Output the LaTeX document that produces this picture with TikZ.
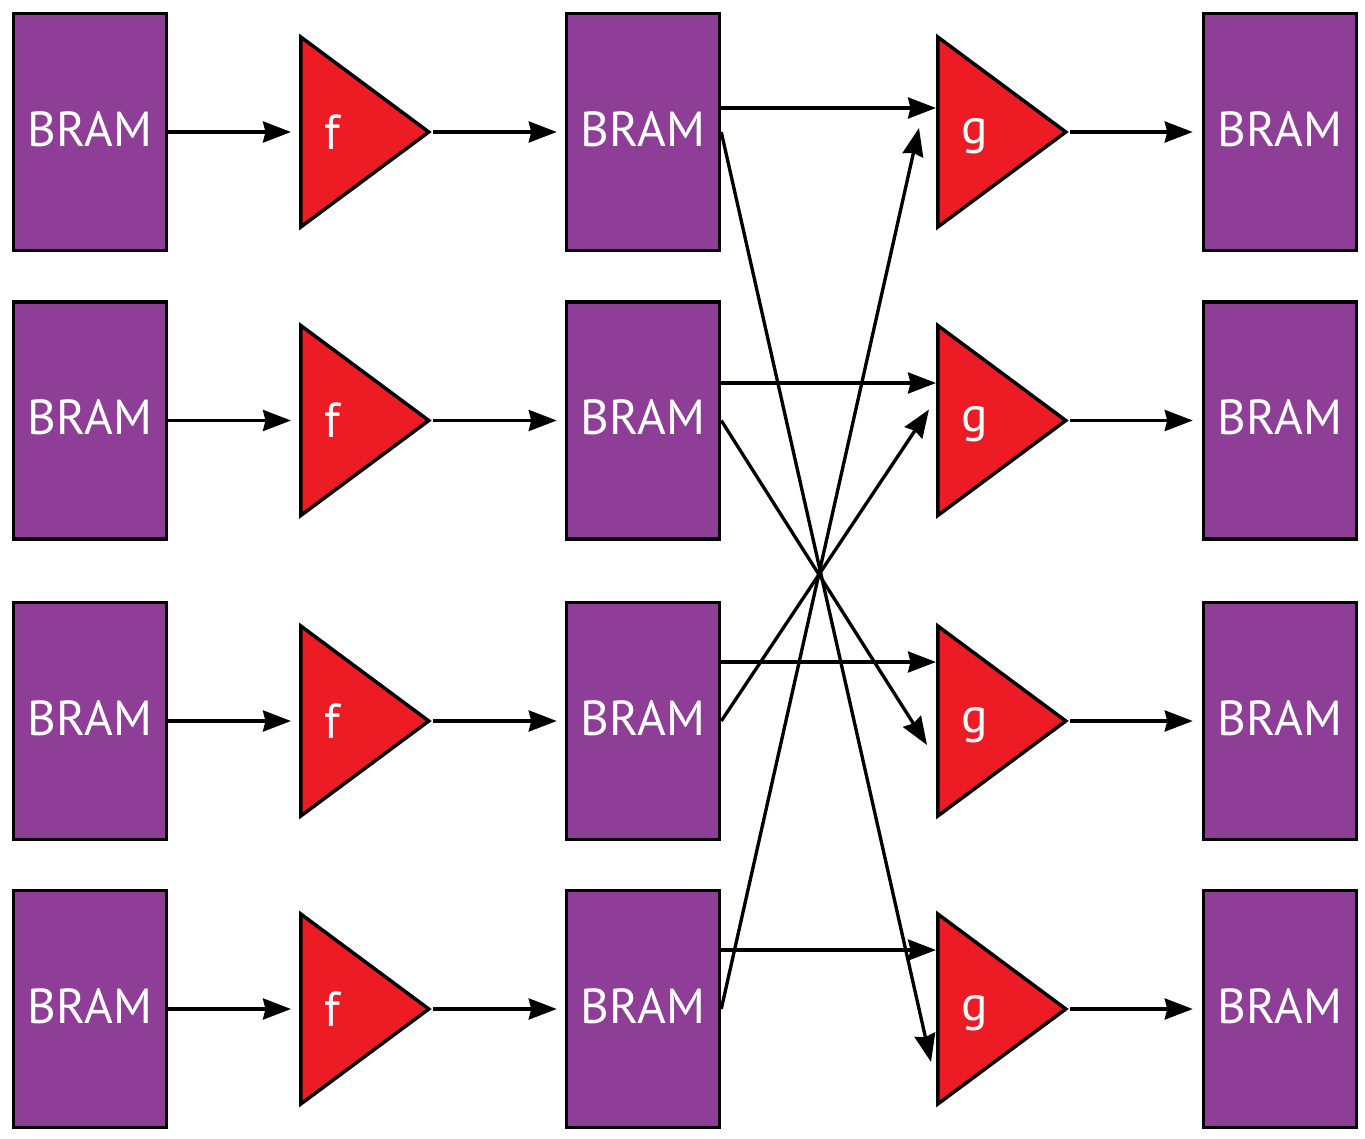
\documentclass[tikz,border=0pt]{standalone}
\usepackage{fontspec}
\setmainfont{PT Sans}
\usetikzlibrary{positioning,arrows.meta,shapes.geometric}
\definecolor{BramPurple}{RGB}{142,62,150}
\definecolor{FuncRed}{RGB}{237,28,36}
\tikzset{
  flow/.style={-{Stealth[length=0.56cm,width=0.42cm,inset=0.05cm]},line width=1.9pt,draw=black},
  bram/.style={draw=black,fill=BramPurple,line width=2pt,minimum width=3.06cm,
    minimum height=4.74cm,inner sep=0pt,text=white,text depth=0.12cm,
    font=\fontsize{28}{30}\selectfont},
  func/.style={draw=black,fill=FuncRed,line width=2pt,isosceles triangle,
    isosceles triangle stretches,minimum width=3.8cm,minimum height=2.56cm,
    inner sep=0pt,anchor=west},
  funcname/.style={text=white,inner sep=0pt,anchor=west,font=\fontsize{28}{30}\selectfont}
}

\begin{document}
\begin{tikzpicture}
  \useasboundingbox (0,0) rectangle (27.3,-22.78);
  % input buffers
  \node[bram] (in1) at (1.80,-2.64) {BRAM};
  \node[bram] (in2) at (1.80,-8.41) {BRAM};
  \node[bram] (in3) at (1.80,-14.42) {BRAM};
  \node[bram] (in4) at (1.80,-20.18) {BRAM};
  % first stage
  \node[func] (f1) at (5.98,-2.64) {};
  \node[func] (f2) at (5.98,-8.41) {};
  \node[func] (f3) at (5.98,-14.42) {};
  \node[func] (f4) at (5.98,-20.18) {};
  \node[funcname,right=0.5cm of f1.west] {f};
  \node[funcname,right=0.5cm of f2.west] {f};
  \node[funcname,right=0.5cm of f3.west] {f};
  \node[funcname,right=0.5cm of f4.west] {f};
  % intermediate buffers
  \node[bram] (mid1) at (12.86,-2.64) {BRAM};
  \node[bram] (mid2) at (12.86,-8.41) {BRAM};
  \node[bram] (mid3) at (12.86,-14.42) {BRAM};
  \node[bram] (mid4) at (12.86,-20.18) {BRAM};
  % second stage
  \node[func] (g1) at (18.72,-2.64) {};
  \node[func] (g2) at (18.72,-8.41) {};
  \node[func] (g3) at (18.72,-14.42) {};
  \node[func] (g4) at (18.72,-20.18) {};
  \node[funcname,right=0.5cm of g1.west,yshift=-0.08cm] {g};
  \node[funcname,right=0.5cm of g2.west,yshift=-0.08cm] {g};
  \node[funcname,right=0.5cm of g3.west,yshift=-0.08cm] {g};
  \node[funcname,right=0.5cm of g4.west,yshift=-0.08cm] {g};
  % output buffers
  \node[bram] (out1) at (25.60,-2.64) {BRAM};
  \node[bram] (out2) at (25.60,-8.41) {BRAM};
  \node[bram] (out3) at (25.60,-14.42) {BRAM};
  \node[bram] (out4) at (25.60,-20.18) {BRAM};

  % straight paths
  \draw[flow,shorten >=0.16cm] (in1) -- (f1);
  \draw[flow,shorten >=0.16cm] (in2) -- (f2);
  \draw[flow,shorten >=0.16cm] (in3) -- (f3);
  \draw[flow,shorten >=0.16cm] (in4) -- (f4);
  \draw[flow,shorten >=0.16cm] (f1.apex) -- (mid1);
  \draw[flow,shorten >=0.16cm] (f2.apex) -- (mid2);
  \draw[flow,shorten >=0.16cm] (f3.apex) -- (mid3);
  \draw[flow,shorten >=0.16cm] (f4.apex) -- (mid4);
  \draw[flow,shorten >=0.18cm] (g1.apex) -- (out1);
  \draw[flow,shorten >=0.18cm] (g2.apex) -- (out2);
  \draw[flow,shorten >=0.18cm] (g3.apex) -- (out3);
  \draw[flow,shorten >=0.18cm] (g4.apex) -- (out4);
  \draw[flow] ([yshift=0.48cm]mid1.east) -- ([yshift=0.48cm]mid1.east -| g1.west);
  \draw[flow] ([yshift=0.75cm]mid2.east) -- ([yshift=0.75cm]mid2.east -| g2.west);
  \draw[flow] ([yshift=1.18cm]mid3.east) -- ([yshift=1.18cm]mid3.east -| g3.west);
  \draw[flow] ([yshift=1.18cm]mid4.east) -- ([yshift=1.18cm]mid4.east -| g4.west);

  % crossed paths
  \draw[flow] (mid1.east) -- ([xshift=-0.10cm,yshift=-1.06cm]g4.west);
  \draw[flow] (mid2.east) -- ([xshift=-0.18cm,yshift=-0.48cm]g3.west);
  \draw[flow] (mid3.east) -- ([xshift=-0.14cm,yshift=0.22cm]g2.west);
  \draw[flow] (mid4.east) -- ([xshift=-0.34cm,yshift=0.08cm]g1.west);
\end{tikzpicture}
\end{document}
